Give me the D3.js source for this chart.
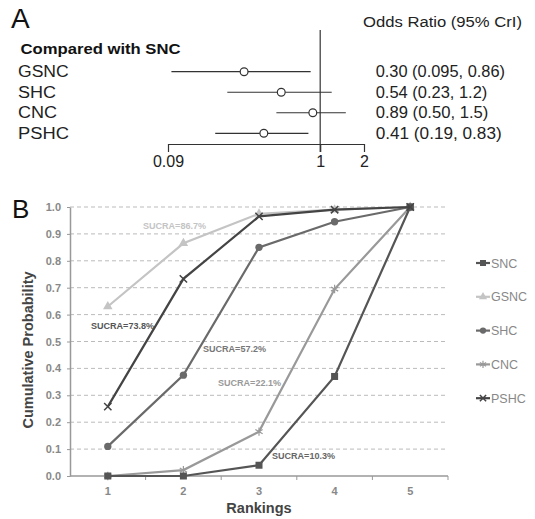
<!DOCTYPE html>
<html>
<head>
<meta charset="utf-8">
<script src="https://cdn.jsdelivr.net/npm/d3@7"></script>
<style>
  body { margin: 0; background: #fff; }
  text { font-family: "Liberation Sans", Arial, sans-serif; }
</style>
</head>
<body>
<div id="chart"></div>
<script>
// ---- panel A data
const comparisons = ["GSNC", "SHC", "CNC", "PSHC"];
const orMid = [0.30, 0.54, 0.89, 0.41];
const orLow = [0.095, 0.23, 0.50, 0.19];
const orHigh = [0.86, 1.2, 1.5, 0.83];
const orLabels = ["0.30 (0.095, 0.86)", "0.54 (0.23, 1.2)", "0.89 (0.50, 1.5)", "0.41 (0.19, 0.83)"];
const orTicks = [0.09, 1, 2];

// ---- panel B data
const rankings = [1, 2, 3, 4, 5];
const seriesNames = ["SNC", "GSNC", "SHC", "CNC", "PSHC"];
const snc = [0, 0, 0.04, 0.37, 1.0];
const gsnc = [0.63, 0.865, 0.975, 0.99, 1.0];
const shc = [0.11, 0.375, 0.85, 0.945, 1.0];
const cnc = [0, 0.022, 0.165, 0.695, 1.0];
const pshc = [0.258, 0.733, 0.965, 0.99, 1.0];
const sucraText = ["SUCRA=10.3%", "SUCRA=86.7%", "SUCRA=57.2%", "SUCRA=22.1%", "SUCRA=73.8%"];
const yTicks = [0, 0.1, 0.2, 0.3, 0.4, 0.5, 0.6, 0.7, 0.8, 0.9, 1.0];

const W = 535, H = 519;
const svg = d3.select("#chart").append("svg")
    .attr("width", W)
    .attr("height", H);

// ================= Panel A
// the source text is a bit wider than Liberation Sans, so widths are pinned
const gA = svg.append("g");
gA.append("text").attr("x", 11).attr("y", 28)
    .attr("font-size", 28).attr("fill", "#111").text("A");
gA.append("text").attr("x", 363).attr("y", 27)
    .attr("font-size", 15.5).attr("fill", "#222")
    .attr("textLength", 159).attr("lengthAdjust", "spacingAndGlyphs")
    .text("Odds Ratio (95% CrI)");
gA.append("text").attr("x", 20.5).attr("y", 53.5)
    .attr("font-size", 15.5).attr("font-weight", "bold").attr("fill", "#111")
    .attr("textLength", 160).attr("lengthAdjust", "spacingAndGlyphs")
    .text("Compared with SNC");

const xOR = d3.scaleLog().domain([0.09, 2]).range([168, 364]);
const yRow = d3.scalePoint().domain(comparisons).range([71.7, 133.3]);

// reference line at OR = 1
gA.append("line")
    .attr("x1", xOR(1)).attr("x2", xOR(1))
    .attr("y1", 30).attr("y2", 152)
    .attr("stroke", "#333").attr("stroke-width", 1.2);

// axis
const axA = gA.append("g").attr("transform", "translate(0,144)")
    .call(d3.axisBottom(xOR).tickValues(orTicks)
        .tickFormat(d => d === 0.09 ? "0.09" : d3.format("d")(d))
        .tickSizeOuter(0).tickSizeInner(8).tickPadding(4));
axA.select(".domain").attr("stroke", "#333").attr("stroke-width", 1.2);
axA.selectAll(".tick line").attr("stroke", "#333").attr("stroke-width", 1.2);
axA.selectAll(".tick text").attr("font-size", 16).attr("fill", "#222")
    .attr("font-family", "Liberation Sans, Arial, sans-serif");

const labelW = [50.7, 38, 39, 51];
const orW = [129.3, 111.6, 112.6, 126];
const rows = gA.selectAll(".row").data(comparisons).enter().append("g");
rows.append("text").attr("x", 18).attr("y", d => yRow(d) + 5.6)
    .attr("font-size", 16).attr("fill", "#222")
    .attr("textLength", (d, i) => labelW[i]).attr("lengthAdjust", "spacingAndGlyphs")
    .text(d => d);
rows.append("line")
    .attr("x1", (d, i) => xOR(orLow[i])).attr("x2", (d, i) => xOR(orHigh[i]))
    .attr("y1", d => yRow(d)).attr("y2", d => yRow(d))
    .attr("stroke", "#333").attr("stroke-width", 1.2);
rows.append("circle")
    .attr("cx", (d, i) => xOR(orMid[i])).attr("cy", d => yRow(d))
    .attr("r", 3.9).attr("fill", "#fff").attr("stroke", "#333").attr("stroke-width", 1.2);
rows.append("text").attr("x", 375.7).attr("y", d => yRow(d) + 5.6)
    .attr("font-size", 16).attr("fill", "#222")
    .attr("textLength", (d, i) => orW[i]).attr("lengthAdjust", "spacingAndGlyphs")
    .text((d, i) => orLabels[i]);

// ================= Panel B
const gB = svg.append("g");
gB.append("text").attr("x", 12).attr("y", 218)
    .attr("font-size", 26).attr("fill", "#111").text("B");

const x = d3.scaleBand().domain(rankings).range([70, 448]);
const y = d3.scaleLinear().domain([0, 1]).range([476, 207]);

// grid
gB.selectAll(".grid").data(yTicks.slice(1)).enter().append("line")
    .attr("x1", 70).attr("x2", 448)
    .attr("y1", d => y(d)).attr("y2", d => y(d))
    .attr("stroke", "#bbb").attr("stroke-width", 1).attr("stroke-dasharray", "4,3");

// y axis
const ay = gB.append("g").attr("transform", "translate(70,0)")
    .call(d3.axisLeft(y).tickValues(yTicks).tickFormat(d3.format(".1f"))
        .tickSize(3).tickSizeOuter(0).tickPadding(6));
ay.select(".domain").attr("stroke", "#999").attr("stroke-width", 1.5);
ay.selectAll(".tick line").attr("stroke", "#999");
ay.selectAll(".tick text").attr("font-size", 11).attr("font-weight", "bold").attr("fill", "#888")
    .attr("font-family", "Liberation Sans, Arial, sans-serif");

// x axis
const ax = gB.append("g").attr("transform", "translate(0,476)");
ax.append("line").attr("x1", 70).attr("x2", 448).attr("stroke", "#999").attr("stroke-width", 1.5);
ax.selectAll(".bt").data(rankings).enter().append("line")
    .attr("x1", d => x(d) + x.bandwidth()).attr("x2", d => x(d) + x.bandwidth())
    .attr("y1", 0).attr("y2", 4).attr("stroke", "#999");
ax.selectAll(".lab").data(rankings).enter().append("text")
    .attr("x", d => x(d) + x.bandwidth() / 2).attr("y", 19)
    .attr("text-anchor", "middle").attr("font-size", 11).attr("font-weight", "bold")
    .attr("fill", "#888").text(d => d);

gB.append("text").attr("x", 259).attr("y", 513).attr("text-anchor", "middle")
    .attr("font-size", 14.5).attr("font-weight", "bold").attr("fill", "#444")
    .text("Rankings");
gB.append("text").attr("transform", "translate(33,350) rotate(-90)")
    .attr("text-anchor", "middle").attr("font-size", 14.5).attr("font-weight", "bold")
    .attr("fill", "#444").text("Cumulative Probability");

const seriesData = [snc, gsnc, shc, cnc, pshc];
const colors = ["#555", "#c4c4c4", "#6a6a6a", "#999", "#444"];
const markers = ["square", "triangle", "circle", "star", "cross"];

const line = d3.line().x((d, i) => x(rankings[i]) + x.bandwidth() / 2).y(d => y(d));

function drawMarker(g, type, cx, cy, color, s) {
    if (type === "square") {
        g.append("rect").attr("x", cx - s).attr("y", cy - s).attr("width", 2 * s).attr("height", 2 * s)
            .attr("fill", color);
    } else if (type === "triangle") {
        g.append("path").attr("d", d3.symbol(d3.symbolTriangle, s * s * 3.2)())
            .attr("transform", `translate(${cx},${cy})`).attr("fill", color);
    } else if (type === "circle") {
        g.append("circle").attr("cx", cx).attr("cy", cy).attr("r", s * 1.05).attr("fill", color);
    } else if (type === "star") {
        g.append("path").attr("d", d3.symbol(d3.symbolAsterisk, s * s * 4)())
            .attr("transform", `translate(${cx},${cy})`).attr("stroke", color).attr("stroke-width", 1.2);
    } else {
        g.append("path").attr("d", d3.symbol(d3.symbolTimes, s * s * 3)())
            .attr("transform", `translate(${cx},${cy})`).attr("stroke", color).attr("stroke-width", 1.5);
    }
}

// draw in order so light series sit under dark ones
const order = [1, 3, 2, 0, 4];
order.forEach(k => {
    const g = gB.append("g");
    g.append("path").datum(seriesData[k]).attr("d", line)
        .attr("fill", "none").attr("stroke", colors[k]).attr("stroke-width", 2.2);
    seriesData[k].forEach((v, i) => {
        drawMarker(g, markers[k], x(rankings[i]) + x.bandwidth() / 2, y(v), colors[k], 3.5);
    });
});

// SUCRA labels, anchored near the curves
const sucraPos = [[272, 459], [143, 229], [203, 352], [218, 386], [91, 329]];
const sucraColors = ["#666", "#c4c4c4", "#777", "#999", "#555"];
gB.selectAll(".sucra").data(sucraText).enter().append("text")
    .attr("x", (d, i) => sucraPos[i][0]).attr("y", (d, i) => sucraPos[i][1])
    .attr("font-size", 9).attr("font-weight", "bold").attr("fill", (d, i) => sucraColors[i])
    .attr("textLength", 63).attr("lengthAdjust", "spacingAndGlyphs")
    .text(d => d);

// legend
const legend = gB.selectAll(".leg").data(seriesNames).enter().append("g")
    .attr("transform", (d, i) => `translate(476,${263 + i * 33.8})`);
legend.append("line").attr("x1", 0).attr("x2", 14)
    .attr("stroke", (d, i) => colors[i]).attr("stroke-width", 2.2);
legend.each(function (d, i) {
    drawMarker(d3.select(this), markers[i], 7, 0, colors[i], 3);
});
legend.append("text").attr("x", 15).attr("y", 4.5)
    .attr("font-size", 12.5).attr("fill", "#888").text(d => d);
</script>
</body>
</html>
